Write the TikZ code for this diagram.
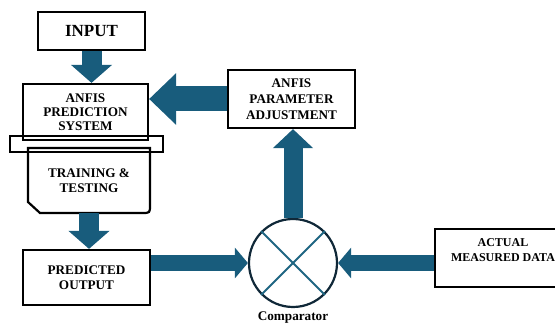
\documentclass[tikz,border=0pt]{standalone}
\usepackage{fontspec}
\setmainfont{Liberation Serif}
\usetikzlibrary{arrows.meta}

\definecolor{arrowblue}{RGB}{24,92,124}
\definecolor{ringnavy}{RGB}{16,40,56}
\definecolor{crossblue}{RGB}{31,102,130}

\begin{document}
\begin{tikzpicture}[x=1pt,y=-1pt,
  box/.style={draw,line width=2.2pt,align=center,inner sep=0pt,
    font=\bfseries\fontsize{13.2}{15.5}\selectfont},
  downarrow/.style={arrowblue,line width=20pt,-{Triangle[length=18pt,width=40pt]}},
  widearrow/.style={arrowblue,line width=25pt,-{Triangle[length=27pt,width=50pt]}},
  uparrow/.style={arrowblue,line width=19pt,-{Triangle[length=19pt,width=39pt]}},
  flatarrow/.style={arrowblue,line width=16pt,-{Triangle[length=13pt,width=30pt]}}]
\useasboundingbox (0,0) rectangle (555,323);
% Boxes
\node[box,minimum width=107pt,minimum height=38pt,
  font=\bfseries\fontsize{17}{20}\selectfont] (input) at (91.5,31) {INPUT};
\node[box,minimum width=125pt,minimum height=56pt,
  font=\bfseries\fontsize{13.2}{14}\selectfont] (anfis) at (85.5,112) {ANFIS\\PREDICTION\\SYSTEM};
\draw[line width=2.2pt] (10,136) rectangle (163,152);
\node[align=center,inner sep=0pt,minimum width=122pt,minimum height=65pt,
  font=\bfseries\fontsize{13.2}{15.5}\selectfont] (train) at (89,180.5) {TRAINING \&\\TESTING};
\draw[line width=2.2pt] (28,202) -- (28,148) -- (150,148) -- (150,205)
  .. controls (150,213) .. (142,213) -- (40,213) -- cycle;
\node[box,minimum width=127pt,minimum height=55pt] (output) at (86.5,277.5) {PREDICTED\\OUTPUT};
\node[box,minimum width=127pt,minimum height=58pt,
  font=\bfseries\fontsize{13.2}{16}\selectfont] (adjust) at (291.5,99) {ANFIS\\PARAMETER\\ADJUSTMENT};
\node[box,minimum width=136pt,minimum height=58pt,
  font=\bfseries\fontsize{12}{15}\selectfont] (actual) at (503,258) {ACTUAL\\MEASURED DATA\\\mbox{}};
% Comparator
\node[circle,draw=ringnavy,line width=2.2pt,minimum size=88pt,inner sep=0pt] (comp) at (293,263) {};
\draw[crossblue,line width=2pt] (comp.north west) -- (comp.south east);
\draw[crossblue,line width=2pt] (comp.north east) -- (comp.south west);
\node[font=\bfseries\fontsize{13.2}{15}\selectfont] (complabel) at (293,318) {Comparator};
% Block arrows
\draw[downarrow] (input.south) -- (input.south |- anfis.north);
\draw[downarrow] (train.south) -- (train.south |- output.north);
\draw[widearrow] (adjust.west) -- (adjust.west -| anfis.east);
\draw[uparrow] (comp.north) -- (comp.north |- adjust.south);
\draw[flatarrow] (comp.west -| output.east) -- (comp.west);
\draw[flatarrow] (comp.east -| actual.west) -- (comp.east);
\end{tikzpicture}
\end{document}
